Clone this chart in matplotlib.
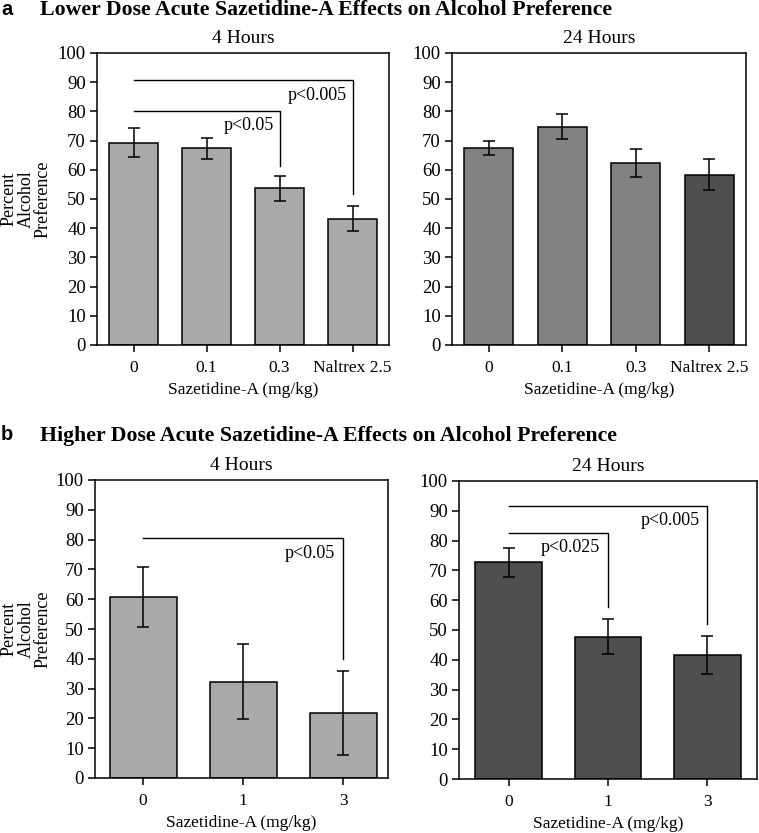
import matplotlib
matplotlib.use("Agg")
import matplotlib.pyplot as plt
import numpy as np

# ---------------- data ----------------
low_labels = ["0", "0.1", "0.3", "Naltrex 2.5"]
low_4h_mean = [69.3, 67.3, 53.7, 43.3]
low_4h_err = [5.0, 3.5, 4.3, 4.2]
low_24h_mean = [67.4, 74.8, 62.3, 58.3]
low_24h_err = [2.5, 4.4, 4.7, 5.3]

high_labels = ["0", "1", "3"]
high_4h_mean = [60.8, 32.3, 21.8]
high_4h_err = [10.0, 12.5, 14.0]
high_24h_mean = [72.7, 47.8, 41.7]
high_24h_err = [4.8, 6.0, 6.3]

# significance brackets: (from index, to index, line level, drop-to level, label)
sig_low_4h = [(0, 2, 80, 61.4, "p<0.05"), (0, 3, 90.6, 51.7, "p<0.005")]
sig_high_4h = [(0, 2, 80.4, 39.8, "p<0.05")]
sig_high_24h = [(0, 1, 82.7, 57.8, "p<0.025"), (0, 2, 91.6, 51.9, "p<0.005")]

light = "#a9a9a9"
mid = "#828282"
dark = "#4f4f4f"

W, H = 759, 833
fig = plt.figure(figsize=(W / 100, H / 100), dpi=100)

serif = "Liberation Serif"
plt.rcParams["font.family"] = serif


def make_ax(l, r, t, b):
    return fig.add_axes([l / W, 1 - b / H, (r - l) / W, (b - t) / H])


def draw(ax, labels, means, errs, colors, title, xlim, sigs):
    x = np.arange(len(labels))
    ax.bar(x, means, width=0.67, color=colors, edgecolor="black", linewidth=1.1, zorder=2)
    ax.errorbar(x, means, yerr=errs, fmt="none", ecolor="black", elinewidth=1.1,
                capsize=4, capthick=1.1, zorder=3)
    ax.set_xlim(*xlim)
    ax.set_ylim(0, 100)
    ax.set_yticks(np.arange(0, 101, 10))
    ax.set_xticks(x)
    ax.set_xticklabels(labels)
    ax.tick_params(axis="both", direction="out", length=5, width=1.1,
                   labelsize=13.5, pad=3)
    ax.tick_params(axis="x", labelsize=12.5, pad=6)
    for s in ax.spines.values():
        s.set_linewidth(1.1)
    ax.set_title(title, fontsize=14, pad=7)
    ax.set_xlabel("Sazetidine-A (mg/kg)", fontsize=12.5, labelpad=4)
    for i0, i1, level, drop, lab in sigs:
        ax.plot([x[i0], x[i1], x[i1]], [level, level, drop], color="black",
                linewidth=1.0, zorder=4)
        ax.text(x[i1] - 0.08, level - 5, lab, ha="right", va="center",
                fontsize=13)


ax1 = make_ax(97, 389, 53, 345)
draw(ax1, low_labels, low_4h_mean, low_4h_err, [light] * 4, "4 Hours",
     (-0.5, 3.5), sig_low_4h)
ax2 = make_ax(452, 746, 53, 345)
draw(ax2, low_labels, low_24h_mean, low_24h_err, [mid, mid, mid, dark], "24 Hours",
     (-0.5, 3.5), [])
ax3 = make_ax(95, 388, 480, 778)
draw(ax3, high_labels, high_4h_mean, high_4h_err, [light] * 3, "4 Hours",
     (-0.48, 2.45), sig_high_4h)
ax4 = make_ax(459, 757, 481, 779)
draw(ax4, high_labels, high_24h_mean, high_24h_err, [dark] * 3, "24 Hours",
     (-0.5, 2.5), sig_high_24h)

ylab = "Percent\nAlcohol\nPreference"
for yc in (199, 629):
    fig.text(26 / W, 1 - yc / H, ylab, rotation=90, fontsize=13, linespacing=1.0,
             ha="center", va="center", multialignment="center")

fig.text(1 / W, 1 - 15 / H, "a", fontsize=14.5, fontweight="bold",
         family="Liberation Sans", ha="left", va="baseline")
fig.text(40 / W, 1 - 15 / H, "Lower Dose Acute Sazetidine-A Effects on Alcohol Preference",
         fontsize=15.7, fontweight="bold", ha="left", va="baseline")
fig.text(1 / W, 1 - 440 / H, "b", fontsize=14.5, fontweight="bold",
         family="Liberation Sans", ha="left", va="baseline")
fig.text(40 / W, 1 - 441 / H, "Higher Dose Acute Sazetidine-A Effects on Alcohol Preference",
         fontsize=15.7, fontweight="bold", ha="left", va="baseline")

fig.savefig("out.png", dpi=100)
